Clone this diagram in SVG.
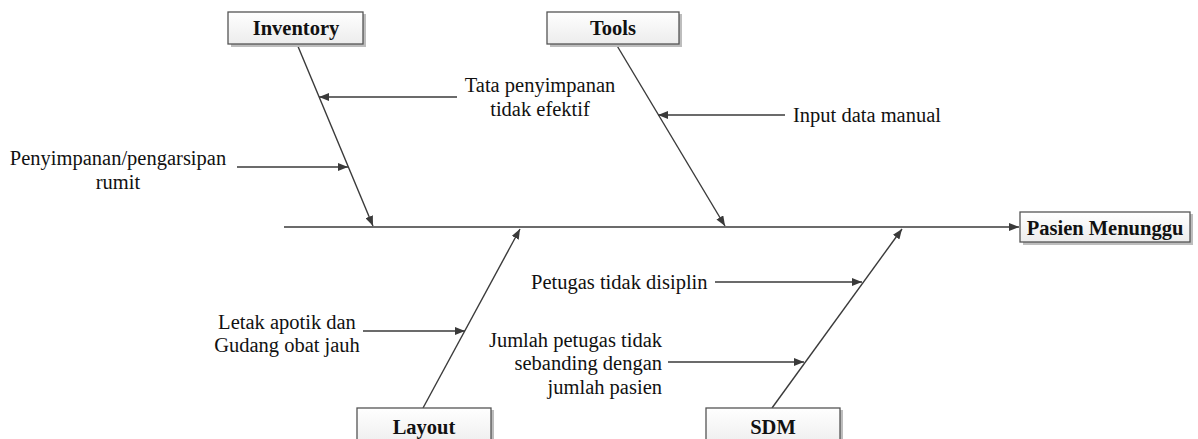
<svg xmlns="http://www.w3.org/2000/svg" width="1198" height="439" viewBox="0 0 1198 439">
<style>
.ln{stroke:#3a3a3a;stroke-width:1.4;fill:none}
.box{fill:url(#g);stroke:#555;stroke-width:1.3}
.sh{fill:#bdbdbd}
.lb{font-family:"Liberation Serif","Times New Roman",serif;font-weight:bold;font-size:20.5px;fill:#111;text-anchor:middle}
.t{font-family:"Liberation Serif","Times New Roman",serif;font-size:20.5px;fill:#111}
.c{text-anchor:middle}
.e{text-anchor:end}
</style>
<defs>
<linearGradient id="g" x1="0" y1="0" x2="0" y2="1"><stop offset="0" stop-color="#ffffff"/><stop offset="1" stop-color="#ececec"/></linearGradient>
<marker id="a" viewBox="0 0 10 8" refX="10" refY="4" markerWidth="10" markerHeight="8" markerUnits="userSpaceOnUse" orient="auto"><path d="M0,0 L10,4 L0,8 Z" fill="#3a3a3a"/></marker>
</defs>
<g id="connectors">
<line class="ln" x1="284" y1="227" x2="1019" y2="227" marker-end="url(#a)"/>
<line class="ln" x1="297" y1="44" x2="373" y2="226" marker-end="url(#a)"/>
<line class="ln" x1="616" y1="44" x2="725" y2="226" marker-end="url(#a)"/>
<line class="ln" x1="423" y1="408" x2="520" y2="229" marker-end="url(#a)"/>
<line class="ln" x1="772" y1="408" x2="902" y2="229" marker-end="url(#a)"/>
<line class="ln" x1="457" y1="97" x2="319" y2="97" marker-end="url(#a)"/>
<line class="ln" x1="785" y1="115" x2="658" y2="115" marker-end="url(#a)"/>
<line class="ln" x1="237" y1="167" x2="348" y2="167" marker-end="url(#a)"/>
<line class="ln" x1="363" y1="331" x2="465" y2="331" marker-end="url(#a)"/>
<line class="ln" x1="715" y1="282" x2="862" y2="282" marker-end="url(#a)"/>
<line class="ln" x1="668" y1="362" x2="804" y2="362" marker-end="url(#a)"/>
</g>
<g id="inventory">
<rect class="sh" x="231" y="14" width="135" height="33"/>
<rect class="box" x="228" y="12" width="135" height="32"/>
<text class="lb" x="296" y="35">Inventory</text>
</g>
<g id="tools">
<rect class="sh" x="550" y="14" width="132" height="33"/>
<rect class="box" x="547" y="12" width="132" height="32"/>
<text class="lb" x="613" y="35">Tools</text>
</g>
<g id="pasien-menunggu">
<rect class="sh" x="1023" y="214" width="170" height="31"/>
<rect class="box" x="1020" y="212" width="170" height="30"/>
<text class="lb" x="1105" y="235">Pasien Menunggu</text>
</g>
<g id="layout">
<rect class="sh" x="360" y="410" width="134" height="32"/>
<rect class="box" x="357" y="408" width="134" height="40"/>
<text class="lb" x="424" y="434">Layout</text>
</g>
<g id="sdm">
<rect class="sh" x="709" y="410" width="134" height="32"/>
<rect class="box" x="706" y="408" width="134" height="40"/>
<text class="lb" x="773" y="434">SDM</text>
</g>
<g id="cause-tata">
<text class="t c" x="540" y="92">Tata penyimpanan</text>
<text class="t c" x="540" y="116">tidak efektif</text>
</g>
<g id="cause-input">
<text class="t" x="793" y="122">Input data manual</text>
</g>
<g id="cause-penyimpanan">
<text class="t c" x="118" y="165">Penyimpanan/pengarsipan</text>
<text class="t c" x="118" y="189">rumit</text>
</g>
<g id="cause-letak">
<text class="t c" x="287" y="329">Letak apotik dan</text>
<text class="t c" x="287" y="352">Gudang obat jauh</text>
</g>
<g id="cause-petugas">
<text class="t" x="531" y="289">Petugas tidak disiplin</text>
</g>
<g id="cause-jumlah">
<text class="t e" x="662" y="347">Jumlah petugas tidak</text>
<text class="t e" x="662" y="370">sebanding dengan</text>
<text class="t e" x="662" y="394">jumlah pasien</text>
</g>
</svg>
